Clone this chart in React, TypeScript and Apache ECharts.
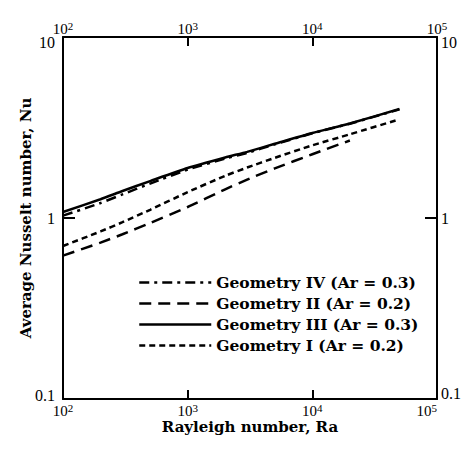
import React, { useEffect, useRef } from "react";
import * as echarts from "echarts";

// Rayleigh numbers (x) and average Nusselt numbers (y)
const raIV = [100, 200, 300, 500, 1000, 2000, 3000, 5000, 10000, 20000, 50000];
const nuIV = [1.03, 1.21, 1.35, 1.55, 1.85, 2.13, 2.29, 2.55, 2.94, 3.32, 3.98];

const raII = [100, 200, 300, 500, 1000, 2000, 3000, 5000, 10000, 20000];
const nuII = [0.62, 0.731, 0.813, 0.938, 1.15, 1.44, 1.63, 1.88, 2.25, 2.68];

const raIII = [100, 200, 300, 500, 1000, 2000, 3000, 5000, 10000, 20000, 50000];
const nuIII = [1.08, 1.27, 1.41, 1.6, 1.89, 2.16, 2.32, 2.57, 2.95, 3.33, 4.0];

const raI = [100, 200, 300, 500, 1000, 2000, 3000, 5000, 10000, 20000, 48000];
const nuI = [0.7, 0.843, 0.948, 1.11, 1.39, 1.71, 1.9, 2.15, 2.52, 2.9, 3.48];

const seriesNames = [
  "Geometry IV (Ar = 0.3)",
  "Geometry II (Ar = 0.2)",
  "Geometry III (Ar = 0.3)",
  "Geometry I (Ar = 0.2)",
];

const xTickValues = [100, 1000, 10000, 100000];
const yTickLabels = ["0.1", "1", "10"];

const FONT = "'Liberation Serif', 'Times New Roman', serif";
const BOLD_FONT = "'DejaVu Serif', 'Liberation Serif', serif";

const zip = (xs: number[], ys: number[]) => xs.map((x, i) => [x, ys[i]]);

export default function App() {
  const ref = useRef<HTMLDivElement>(null);
  useEffect(() => {
    if (!ref.current) return;
    const chart = echarts.init(ref.current, undefined, { renderer: "svg" });

    const xRich = {
      b: { fontSize: 15, fontFamily: FONT, color: "#000", lineHeight: 16, verticalAlign: "bottom" },
      s: { fontSize: 11, fontFamily: FONT, color: "#000", lineHeight: 8, verticalAlign: "top" },
    };
    const xFormatter = (v: number) => `{b|10}{s|${Math.round(Math.log10(v))}}`;

    const yFormatter = (v: number) => {
      const e = Math.round(Math.log10(v));
      const txt = yTickLabels[e + 1];
      if (e === 1) return `{t|${txt}}`;
      if (e === -1) return `{m|${txt}}`;
      return `{n|${txt}}`;
    };
    const yRich = {
      n: { fontSize: 16, fontFamily: FONT, color: "#000" },
      t: { fontSize: 16, fontFamily: FONT, color: "#000", padding: [10, 0, 0, 0] },
      m: { fontSize: 16, fontFamily: FONT, color: "#000", padding: [0, 0, 8, 0] },
    };
    const yRichRight = {
      ...yRich,
      m: { fontSize: 16, fontFamily: FONT, color: "#000", padding: [0, 0, 12, 0] },
    };

    const axisLine = { show: true, lineStyle: { color: "#000", width: 2 } };

    const xAxisBase = {
      type: "log",
      logBase: 10,
      min: xTickValues[0],
      max: xTickValues[xTickValues.length - 1],
      axisLine,
      axisTick: { show: true, inside: true, length: 9, lineStyle: { color: "#000", width: 2 } },
      splitLine: { show: false },
      minorTick: { show: false },
    };
    const yAxisBase = {
      type: "log",
      logBase: 10,
      min: 0.1,
      max: 10,
      axisLine,
      axisTick: { show: true, inside: true, length: 12, lineStyle: { color: "#000", width: 2 } },
      splitLine: { show: false },
    };

    const mk = (name: string, data: number[][], type: any, z: number) => ({
      name,
      type: "line",
      data,
      symbol: "none",
      showSymbol: false,
      smooth: 0.2,
      z,
      lineStyle: { color: "#000", width: 2.5, type },
      itemStyle: { color: "#000" },
    });

    chart.setOption({
      animation: false,
      backgroundColor: "#fff",
      grid: { left: 63, right: 34, top: 37, bottom: 54, containLabel: false },
      xAxis: [
        {
          ...xAxisBase,
          position: "bottom",
          axisLabel: {
            formatter: xFormatter,
            rich: xRich,
            margin: 3,
            showMinLabel: true,
            showMaxLabel: true,
            alignMaxLabel: "right",
          },
          name: "Rayleigh number, Ra",
          nameLocation: "middle",
          nameGap: 20,
          nameMoveOverlap: false,
          nameTextStyle: { fontFamily: BOLD_FONT, fontSize: 15, fontWeight: "bold", color: "#000" },
        },
        {
          ...xAxisBase,
          position: "top",
          axisLabel: { formatter: xFormatter, rich: xRich, margin: 1, showMinLabel: true, showMaxLabel: true },
        },
      ],
      yAxis: [
        {
          ...yAxisBase,
          position: "left",
          axisLabel: { formatter: yFormatter, rich: yRich, margin: 8, showMinLabel: true, showMaxLabel: true },
          name: "Average Nusselt number, Nu",
          nameLocation: "middle",
          nameGap: 30,
          nameMoveOverlap: false,
          nameTextStyle: { fontFamily: BOLD_FONT, fontSize: 15, fontWeight: "bold", color: "#000" },
        },
        {
          ...yAxisBase,
          position: "right",
          axisLabel: { formatter: yFormatter, rich: yRichRight, margin: 4, showMinLabel: true, showMaxLabel: true },
        },
      ],
      legend: {
        data: seriesNames,
        orient: "vertical",
        left: 133,
        top: 267,
        itemWidth: 72,
        itemHeight: 14,
        itemGap: 0,
        itemStyle: { opacity: 0, borderWidth: 0 },
        lineStyle: { width: 2.5, color: "#000" },
        textStyle: { fontFamily: BOLD_FONT, fontSize: 15.5, fontWeight: "bold", color: "#000", lineHeight: 21 },
        selectedMode: false,
      },
      series: [
        mk(seriesNames[2], zip(raIII, nuIII), "solid", 3),
        mk(seriesNames[0], zip(raIV, nuIV), [10, 5, 3, 5], 4),
        mk(seriesNames[1], zip(raII, nuII), [12, 7], 2),
        mk(seriesNames[3], zip(raI, nuI), [6, 4], 2),
      ],
    });
    return () => chart.dispose();
  }, []);
  return (
    <div
      ref={ref}
      style={{ position: "fixed", left: 0, top: 0, width: 471, height: 453, background: "#fff" }}
    />
  );
}
